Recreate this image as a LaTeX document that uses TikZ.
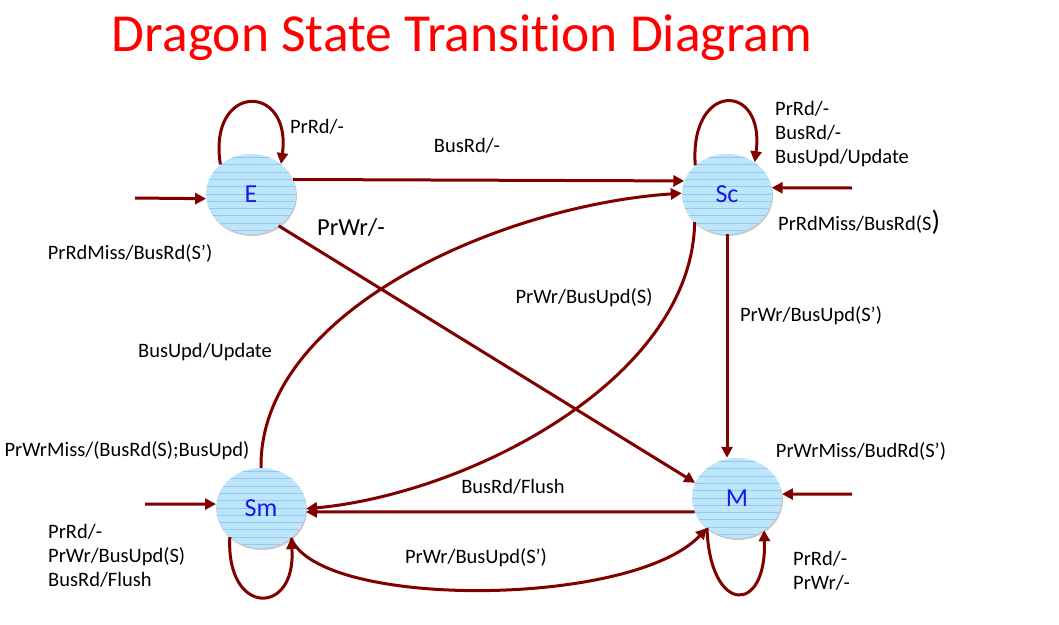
\documentclass[tikz,border=0pt]{standalone}
\usepackage{fontspec}
\setmainfont{Carlito}[Ligatures=NoCommon]
\usetikzlibrary{arrows.meta,shapes.geometric,shadows}
\definecolor{edgered}{HTML}{800000}
\definecolor{statefill}{HTML}{BEE6FB}
\definecolor{stripecol}{HTML}{92C8F3}
\definecolor{labelblue}{HTML}{1A1AE8}
\definecolor{titlered}{HTML}{FF0000}
\tikzset{
  state/.style={ellipse, minimum width=90pt, minimum height=80pt, inner sep=0pt,
    fill=statefill, text=labelblue, font=\fontsize{26}{26}\selectfont,
    drop shadow={shadow xshift=1pt, shadow yshift=-2pt, opacity=0.35, fill=black!60},
    path picture={\foreach \k in {-5,...,5}{\draw[stripecol, line width=1pt]
      ([yshift=\k*7.3pt]path picture bounding box.west) --
      ([yshift=\k*7.3pt]path picture bounding box.east);}}},
  edge/.style={draw=edgered, line width=3pt, -{Triangle[length=11pt,width=11pt]}},
  lbl/.style={font=\fontsize{20.5}{24}\selectfont, inner sep=0pt, text=black},
}
\begin{document}
\begin{tikzpicture}[x=1pt,y=-1pt]
\fill[white] (0,0) rectangle (1059,624);
\useasboundingbox (0,0) rectangle (1059,624);

% title
\node[text=titlered, font=\fontsize{53.5}{54}\selectfont, inner sep=0pt] (title) at (462,38) {Dragon State Transition Diagram};

% states
\node[state] (E)  at (251,194) {E};
\node[state] (Sc) at (727,194) {Sc};
\node[state] (Sm) at (261,508) {Sm};
\node[state] (M)  at (737,498) {M};

% free ends of entry arrows
\coordinate (eIn)  at (135,198);
\coordinate (scIn) at (852,188);
\coordinate (smIn) at (145,504);
\coordinate (mIn)  at (852,494);

% entry arrows
\draw[edge] (eIn) -- (E.186);
\draw[edge] (scIn) -- (Sc.8);
\draw[edge] (smIn) -- (Sm.175);
\draw[edge] (mIn) -- (M.5);

% self loops
\draw[edge] (E.136) .. controls +(-13,-82) and +(11,-82) .. (E.45);
\draw[edge] (Sc.138) .. controls +(-6,-85) and +(11,-80) .. (Sc.49);
\draw[edge] (Sm.223) .. controls +(-4,80) and +(6,78) .. (Sm.-45);
\draw[edge] (M.225) .. controls +(3,87) and +(3,85) .. (M.-50);

% transitions
\draw[edge] (E.19) -- (Sc.163);
\draw[edge] (E.-49) -- (M.160);
\draw[edge] (Sc.south) -- (Sc.south |- M.north);
\draw[edge] (M.198) -- (Sm.-5);
\draw[edge] (Sm.north) .. controls +(-2,-157) and +(-180,12) .. (Sc.179);
\draw[edge] (Sc.221) .. controls +(-3,158) and +(162,-15) .. (Sm.-1);
\draw[edge] (Sm.-45) .. controls +(28,71) and +(-75,80) .. (M.225);

% labels
\node[lbl] (l1) at (317,127) {PrRd/-};
\node[lbl] (l2) at (467,146) {BusRd/-};
\node[lbl, font=\fontsize{24.5}{25}\selectfont] (l3) at (351,228) {PrWr/-};
\node[lbl] (l4) at (130,253) {PrRdMiss/BusRd(S’)};
\node[lbl, anchor=west, align=left] (l5) at (775,134) {PrRd/-\\BusRd/-\\BusUpd/Update};
\node[lbl, anchor=west] (l6) at (778,222) {PrRdMiss/BusRd(S{\fontsize{28}{28}\selectfont )}};
\node[lbl] (l7) at (584,298) {PrWr/BusUpd(S)};
\node[lbl] (l8) at (811,316) {PrWr/BusUpd(S’)};
\node[lbl] (l9) at (205,352) {BusUpd/Update};
\node[lbl] (l10) at (127,451) {PrWrMiss/(BusRd(S);BusUpd)};
\node[lbl] (l11) at (861,451) {PrWrMiss/BudRd(S’)};
\node[lbl] (l12) at (513,487) {BusRd/Flush};
\node[lbl, anchor=west, align=left] (l13) at (48,556) {PrRd/-\\PrWr/BusUpd(S)\\BusRd/Flush};
\node[lbl] (l14) at (476,558) {PrWr/BusUpd(S’)};
\node[lbl, anchor=west, align=left] (l15) at (793,571) {PrRd/-\\PrWr/-};
\end{tikzpicture}
\end{document}
